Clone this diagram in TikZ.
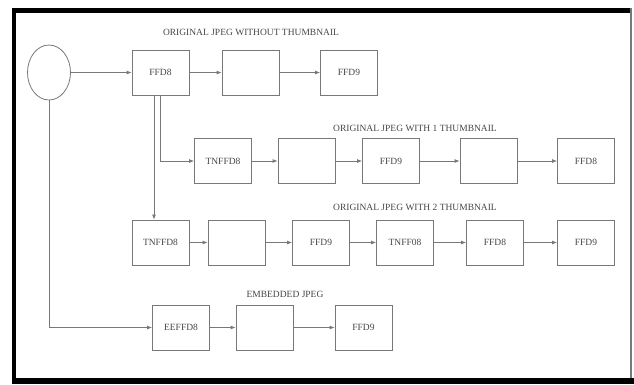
\documentclass[tikz,border=0pt]{standalone}
\usepackage{fontspec}
\setmainfont{Liberation Serif}
\usetikzlibrary{arrows.meta,positioning,shapes.geometric}
\definecolor{lnc}{RGB}{120,120,120}
\definecolor{txc}{RGB}{70,70,70}
\tikzset{blk/.style={draw=lnc,line width=.8pt,minimum width=57pt,minimum height=45pt,inner sep=0pt,
  font=\fontsize{9.5}{11}\selectfont,text=txc},
 ttl/.style={font=\fontsize{9.5}{11}\selectfont,text=txc,inner sep=0pt},
 arr/.style={draw=lnc,line width=.8pt,-{Latex[length=5pt,width=4pt]}}}
\begin{document}
\begin{tikzpicture}[x=1pt,y=-1pt]
\useasboundingbox (0,0) rectangle (634,384);
% frame
\draw[line width=4pt] (14,8) -- (14,384);
\draw[line width=5pt] (12,10.5) -- (632,10.5);
\draw[line width=6pt] (12,381) -- (634,381);
\draw[lnc,line width=1.5pt] (631,8) -- (631,378);
% start
\node[ellipse,draw=lnc,line width=.8pt,minimum width=43pt,minimum height=55pt] (src) at (49,72.5) {};
% original jpeg without thumbnail
\node[ttl] (lab1) at (251,32) {ORIGINAL JPEG WITHOUT THUMBNAIL};
\node[blk] (s1) at (160.5,72.5) {FFD8};
\node[blk] (e1) at (250.5,72.5) {};
\node[blk] (f1) at (349,72.5) {FFD9};
% with 1 thumbnail
\node[ttl] (lab2) at (415,128) {ORIGINAL JPEG WITH 1 THUMBNAIL};
\node[blk] (t2) at (223,161) {TNFFD8};
\node[blk] (e2) at (306.5,161) {};
\node[blk] (f2) at (391,161) {FFD9};
\node[blk] (g2) at (488.5,161) {};
\node[blk] (h2) at (586,161) {FFD8};
% with 2 thumbnail
\node[ttl] (lab3) at (415,207) {ORIGINAL JPEG WITH 2 THUMBNAIL};
\node[blk] (t3) at (160.5,242.5) {TNFFD8};
\node[blk] (e3) at (236.5,242.5) {};
\node[blk] (f3) at (321,242.5) {FFD9};
\node[blk] (n3) at (405,242.5) {TNFF08};
\node[blk] (d3) at (495,242.5) {FFD8};
\node[blk] (g3) at (586,242.5) {FFD9};
% embedded
\node[ttl] (lab4) at (285,294) {EMBEDDED JPEG};
\node[blk] (m4) at (181,327.5) {EEFFD8};
\node[blk] (e4) at (264.5,327.5) {};
\node[blk] (f4) at (363.5,327.5) {FFD9};
\foreach \a/\b in {src/s1,s1/e1,e1/f1,t2/e2,e2/f2,f2/g2,g2/h2,t3/e3,e3/f3,f3/n3,n3/d3,d3/g3,m4/e4,e4/f4}{\draw[arr] (\a)--(\b);}
\draw[arr] (s1.south) |- (t2);
\draw[arr] ([xshift=-6.5pt]s1.south) -- ([xshift=-6.5pt]t3.north);
\draw[arr] (src) |- (m4);
\end{tikzpicture}
\end{document}
